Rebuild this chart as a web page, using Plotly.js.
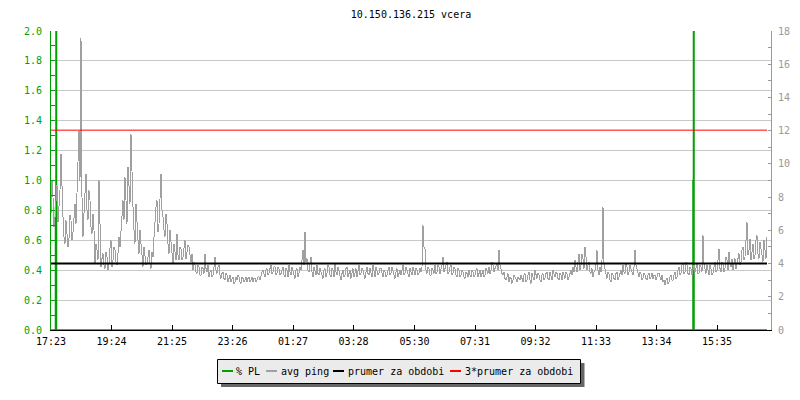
<!DOCTYPE html>
<html>
<head>
<meta charset="utf-8">
<script src="https://cdn.plot.ly/plotly-3.0.1.min.js"></script>
<style>
html,body{margin:0;padding:0;background:#fff;}
#chart{width:800px;height:400px;}
</style>
</head>
<body>
<div id="chart"></div>
<script>
// ---- data ----
const chartTitle = "10.150.136.215 vcera";
const startClock = "17:23";
const tickLabels = ["17:23","19:24","21:25","23:26","01:27","03:28","05:30","07:31","09:32","11:33","13:34","15:35"];
const seriesNames = ["% PL", "avg ping", "prumer za obdobi", "3*prumer za obdobi"];

// avg ping (ms, right axis), samples at 0, 4, 8, ... minutes after 17:23
const pingStepMin = 4;
const avgPing = [
 7.0, 8.0, 6.8, 8.7, 7.4, 10.6, 6.8, 5.2, 6.0, 5.5, 6.6, 5.9, 7.6, 8.8,
 12.0, 17.6, 5.6, 8.8, 7.2, 8.4, 6.2, 7.0, 4.0, 4.8, 9.0,
 3.8, 4.6, 3.7, 4.4, 4.0, 5.4, 4.2, 4.8, 3.9, 5.6,
 6.2, 7.8, 9.2, 6.4, 8.6, 11.8, 7.4, 5.2, 6.8, 4.6,
 5.2, 3.8, 4.6, 4.0, 4.8, 3.7, 4.4, 6.6, 7.8, 6.4,
 9.4, 6.8, 5.6, 6.4, 4.6, 5.4, 4.0, 4.8, 5.8, 4.2,
 4.9, 4.4, 5.4, 4.6, 5.0, 4.1, 3.6, 3.9, 3.4, 3.8,
 3.3, 3.7, 4.6, 3.5, 3.2, 3.6, 3.3, 4.4, 3.4, 3.9,
 3.1, 3.5, 3.0, 3.3, 3.1, 2.9, 3.2, 2.9, 3.0, 3.2,
 2.8, 3.1, 3.0, 2.9, 3.2, 3.0, 2.9, 3.1, 3.0, 3.2,
 3.3, 3.6, 3.2, 3.7, 3.4, 3.9, 3.5, 3.8, 3.4, 3.7,
 3.4, 3.8, 3.2, 3.6, 3.9, 3.3, 3.5, 3.1, 3.7, 3.4,
 3.6, 4.8, 5.9, 4.3, 3.5, 4.4, 3.2, 3.6, 3.9, 3.3,
 3.5, 3.1, 3.7, 3.4, 3.8, 3.2, 3.6, 4.0, 3.3, 3.5,
 3.0, 3.6, 3.3, 3.8, 3.4, 3.1, 3.7, 3.5, 3.2, 3.9,
 3.4, 3.6, 3.1, 3.8, 3.3, 3.5, 3.9, 3.2, 3.6, 3.4,
 3.7, 3.2, 3.5, 3.3, 3.8, 3.4, 3.6, 3.1, 3.7, 3.5,
 3.3, 3.9, 3.4, 3.6, 3.2, 3.5, 3.8, 3.3, 3.6, 3.4,
 3.5, 6.3, 4.9, 3.4, 3.7, 3.3, 3.6, 3.9, 3.5, 3.8,
 3.6, 4.4, 3.7, 4.1, 3.5, 3.9, 3.4, 3.7, 3.2, 3.6,
 3.3, 3.5, 3.1, 3.4, 3.6, 3.2, 3.5, 3.3, 3.7, 3.4,
 3.2, 3.6, 3.3, 3.5, 3.8, 3.6, 3.9, 3.7, 4.0, 4.8,
 3.6, 3.3, 3.1, 3.2, 2.9, 3.1, 3.0, 3.2, 2.9, 3.1,
 3.3, 2.9, 3.4, 3.0, 3.5, 2.8, 3.2, 3.6, 3.1, 3.3,
 2.9, 3.4, 3.1, 3.5, 3.0, 3.3, 3.6, 3.2, 3.4, 3.0,
 3.3, 3.5, 3.1, 3.4, 3.2, 3.6,
 3.8, 4.2, 3.5, 4.6, 3.9, 4.3, 5.0, 3.6, 4.1,
 3.4, 3.2, 3.6, 4.8, 3.3, 3.5,
 7.4,
 3.6, 3.1, 3.4, 2.9, 3.3, 3.0, 3.5, 3.2,
 3.6, 3.9, 3.4, 3.8, 3.5, 3.7, 3.3, 4.8, 3.6,
 3.2, 3.4, 3.1, 3.3, 3.0, 3.4, 3.2, 3.1, 3.3, 3.2,
 3.4, 3.0, 2.9, 2.7, 3.1, 2.9, 3.3, 3.0, 3.5, 3.2,
 3.8, 3.4, 4.0, 3.5, 3.9, 3.3, 3.7, 3.6,
 3.5, 4.0, 3.4, 3.8, 5.7, 3.6, 3.9, 3.3,
 3.7, 3.4, 4.1, 3.6, 4.9, 3.5, 4.0, 3.7, 4.2, 4.7, 3.8, 3.6, 4.3, 4.0,
 4.6, 4.1, 5.0, 4.4, 6.5, 4.8, 4.2, 5.2, 4.5, 5.7, 4.3, 4.9, 4.1, 5.0, 5.6
];
// avg ping samples in between, at 2, 6, 10, ... minutes after 17:23
const avgPingMid = [
 9.0, 6.2, 7.6, 6.5, 8.4, 7.8, 5.6, 6.6, 5.0, 6.9, 5.4, 7.0, 6.4,
 10.2, 9.0, 8.0, 7.0, 9.4, 6.6, 7.8, 5.8, 6.0, 5.2, 4.2, 5.4,
 4.3, 3.9, 4.7, 3.6, 4.9, 3.8, 5.0, 4.1, 4.6, 5.0,
 7.0, 6.6, 7.8, 9.8, 7.6, 9.0, 6.0, 7.6, 5.4, 6.0,
 4.4, 5.0, 3.9, 4.5, 4.0, 4.7, 5.6, 7.4, 5.9, 7.6,
 7.2, 6.0, 7.0, 5.2, 6.0, 4.4, 5.2, 4.2, 4.5, 5.0,
 4.2, 4.8, 4.3, 5.1, 4.3, 4.6, 4.1, 3.5, 3.9, 3.3,
 3.8, 3.4, 3.7, 3.9, 3.5, 3.2, 3.8, 3.6, 3.8, 3.3,
 3.4, 3.1, 3.4, 2.9, 3.3, 3.1, 2.8, 3.2, 3.3, 2.9,
 3.2, 2.9, 3.2, 3.1, 2.9, 3.2, 3.1, 2.9, 3.2, 3.0,
 3.5, 3.3, 3.6, 3.3, 3.7, 3.4, 3.8, 3.3, 3.8, 3.3,
 3.6, 3.3, 3.7, 3.2, 3.5, 3.8, 3.2, 3.6, 3.2, 3.8,
 4.2, 3.9, 4.1, 3.6, 4.0, 3.5, 3.8, 3.3, 3.4, 3.7,
 3.3, 3.6, 3.2, 3.9, 3.3, 3.7, 3.2, 3.5, 3.8, 3.2,
 3.4, 3.2, 3.7, 3.2, 3.6, 3.5, 3.2, 3.7, 3.5, 3.3,
 3.7, 3.3, 3.5, 3.4, 3.7, 3.2, 3.5, 3.8, 3.3, 3.7,
 3.4, 3.6, 3.2, 3.6, 3.3, 3.8, 3.3, 3.5, 3.2, 3.6,
 3.6, 3.3, 3.8, 3.3, 3.7, 3.3, 3.4, 3.7, 3.3, 3.7,
 3.8, 5.0, 3.6, 3.8, 3.3, 3.7, 3.4, 3.4, 3.9, 3.4,
 3.9, 3.5, 3.9, 3.4, 3.8, 3.3, 3.8, 3.3, 3.7, 3.2,
 3.6, 3.2, 3.5, 3.2, 3.3, 3.6, 3.2, 3.6, 3.2, 3.6,
 3.5, 3.2, 3.7, 3.4, 3.4, 4.1, 3.5, 3.9, 3.6, 3.9,
 3.4, 3.5, 3.0, 3.4, 3.2, 2.8, 3.3, 3.0, 3.2, 3.0,
 3.0, 3.3, 2.9, 3.3, 3.0, 3.4, 3.0, 3.2, 3.4, 3.0,
 3.3, 3.0, 3.4, 3.1, 3.5, 3.0, 3.3, 3.5, 3.1, 3.4,
 3.0, 3.3, 3.5, 3.0, 3.4, 3.3,
 3.5, 3.8, 4.1, 3.6, 4.6, 3.7, 4.4, 3.9, 3.5,
 3.7, 3.5, 4.0, 3.6, 3.8, 4.2,
 4.0,
 3.2, 3.5, 3.0, 3.4, 3.1, 3.4, 3.0, 3.4,
 3.3, 3.5, 4.0, 3.3, 3.9, 3.4, 3.8, 3.9, 3.3,
 3.5, 3.0, 3.4, 3.1, 3.3, 3.1, 3.4, 3.3, 3.0, 3.4,
 3.1, 3.3, 3.0, 3.0, 2.8, 3.2, 3.0, 3.3, 3.1, 3.6,
 3.3, 3.9, 3.4, 4.1, 3.4, 3.8, 3.3, 3.9,
 3.8, 3.4, 3.9, 3.5, 4.0, 3.4, 3.5, 3.9,
 3.3, 3.8, 3.5, 4.2, 3.7, 4.1, 3.5, 4.4, 3.6, 4.0, 4.3, 4.0, 3.7, 4.5,
 3.9, 4.8, 4.2, 5.4, 4.5, 5.5, 4.7, 4.3, 5.4, 4.6, 5.3, 4.2, 5.4, 4.3
];

// packet loss (%, left axis): minutes after 17:23 and value
const plMinutes = [0, 8, 9, 10, 11, 1283, 1284, 1285, 1286, 1432];
const plValues  = [0, 0, 0.82, 2.0, 0, 0, 1.0, 2.0, 0, 0];

// period average of avg ping (ms)
const meanPing = 4.01;

// ---- build ----
function clockToMin(s) {
  const p = s.split(":").map(Number);
  const q = startClock.split(":").map(Number);
  return ((p[0]*60 + p[1]) - (q[0]*60 + q[1]) + 1440) % 1440;
}
const tickMinutes = tickLabels.map(clockToMin);

const pingX = [], pingY = [];
avgPing.forEach((v, i) => {
  pingX.push(i * pingStepMin); pingY.push(v);
  if (i < avgPingMid.length) { pingX.push(i * pingStepMin + pingStepMin / 2); pingY.push(avgPingMid[i]); }
});
const lastMin = pingX[pingX.length - 1];

const MONO = "DejaVu Sans Mono";
const GREEN = "#00a000";
const GRAYLINE = "#a0a0a0";
const AXGRAY = "#999999";

const traces = [
  {x: pingX, y: pingY, yaxis: "y2", type: "scatter", mode: "lines",
   line: {color: GRAYLINE, width: 1}, name: seriesNames[1], showlegend: false, hoverinfo: "skip"},
  {x: [0, lastMin], y: [meanPing, meanPing], yaxis: "y2", type: "scatter", mode: "lines",
   line: {color: "#000000", width: 2}, name: seriesNames[2], showlegend: false, hoverinfo: "skip"},
  {x: [0, lastMin], y: [3*meanPing, 3*meanPing], yaxis: "y2", type: "scatter", mode: "lines",
   line: {color: "#ff0000", width: 1}, name: seriesNames[3], showlegend: false, hoverinfo: "skip"},
  {x: plMinutes, y: plValues, yaxis: "y", type: "scatter", mode: "lines",
   line: {color: GREEN, width: 1.5, shape: "hv"}, name: seriesNames[0], showlegend: false, hoverinfo: "skip"}
];

// pixel -> paper helpers for the hand-drawn legend
const L = 51, R = 29, T = 31, B = 70, W = 800, H = 400;
const pw = W - L - R, ph = H - T - B;
const px = v => (v - L) / pw;
const py = v => (H - B - v) / ph;

const legendColors = [GREEN, GRAYLINE, "#000000", "#ff0000"];
const legLineX = [[222, 233], [266, 277], [333, 344], [450, 461]];
const legTextX = [235, 280, 347, 464];
const legY = 371;

const shapes = [
  {type: "rect", xref: "paper", yref: "paper", x0: px(221), x1: px(584.5), y0: py(363), y1: py(387),
   fillcolor: "#666666", line: {width: 0}, layer: "above"},
  {type: "rect", xref: "paper", yref: "paper", x0: px(217.5), x1: px(580.5), y0: py(359.5), y1: py(383.5),
   fillcolor: "#ebebeb", line: {color: "#000000", width: 1}, layer: "above"}
];
const annotations = [];
seriesNames.forEach((n, k) => {
  shapes.push({type: "line", xref: "paper", yref: "paper", x0: px(legLineX[k][0]), x1: px(legLineX[k][1]),
    y0: py(legY), y1: py(legY), line: {color: legendColors[k], width: 2}, layer: "above"});
  annotations.push({text: n, xref: "paper", yref: "paper", x: px(legTextX[k]), y: py(legY),
    xanchor: "left", yanchor: "middle", showarrow: false, borderpad: 0,
    font: {family: MONO, size: 10, color: "#000000"}});
});

const layout = {
  width: W, height: H,
  margin: {l: L, r: R, t: T, b: B, pad: 0},
  paper_bgcolor: "#ffffff", plot_bgcolor: "#ffffff",
  showlegend: false,
  title: {text: chartTitle, x: 0.5, xref: "paper", xanchor: "center", y: 0.965, yanchor: "middle",
          font: {family: MONO, size: 10, color: "#000000"}},
  xaxis: {range: [0, 1440], tickmode: "array", tickvals: tickMinutes, ticktext: tickLabels,
          ticks: "inside", ticklen: 5, tickcolor: "#000000", showline: true, linecolor: "#000000", linewidth: 1,
          showgrid: false, zeroline: false, ticklabelstandoff: 2,
          tickfont: {family: MONO, size: 10, color: "#000000"}, fixedrange: true},
  yaxis: {range: [0, 2], tick0: 0, dtick: 0.2, tickformat: ".1f", ticks: "inside", ticklen: 4, tickcolor: GREEN,
          showline: true, linecolor: GREEN, linewidth: 1, gridcolor: "#c8c8c8", gridwidth: 1, zeroline: false,
          tickfont: {family: MONO, size: 10, color: GREEN}, ticklabelstandoff: 6,
          minor: {dtick: 0.1, ticks: "inside", ticklen: 4, tickcolor: GREEN, showgrid: false}, fixedrange: true},
  yaxis2: {range: [0, 18], tick0: 0, dtick: 2, overlaying: "y", side: "right", ticks: "inside", ticklen: 3,
          tickcolor: AXGRAY, showline: true, linecolor: AXGRAY, linewidth: 1, showgrid: false, zeroline: false,
          tickfont: {family: MONO, size: 10, color: AXGRAY}, ticklabelstandoff: 4,
          minor: {dtick: 1, ticks: "inside", ticklen: 3, tickcolor: AXGRAY, showgrid: false}, fixedrange: true},
  shapes: shapes,
  annotations: annotations
};

Plotly.newPlot("chart", traces, layout, {staticPlot: true, displayModeBar: false}).then(gd => {
  const tr = gd.querySelectorAll(".scatterlayer .trace");
  tr.forEach(t => {
    const p = t.querySelector("path.js-line");
    if (!p) return;
    const isPing = t.__data__ && t.__data__[0] && t.__data__[0].trace && t.__data__[0].trace.name === seriesNames[1];
    p.style.shapeRendering = isPing ? "crispEdges" : "auto";
  });
});
</script>
</body>
</html>
